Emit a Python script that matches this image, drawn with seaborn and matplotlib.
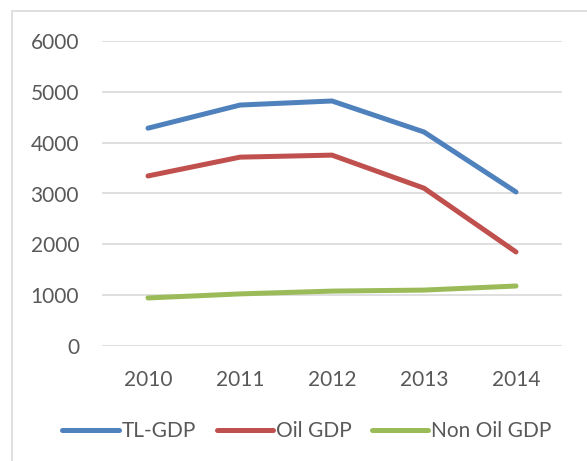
import pandas as pd
import numpy as np
import matplotlib
matplotlib.use("Agg")
import matplotlib.pyplot as plt
from matplotlib.patches import Rectangle
import seaborn as sns

# Values
years = ['2010', '2011', '2012', '2013', '2014']
tl_gdp = [4285, 4740, 4820, 4210, 3030]
oil_gdp = [3345, 3715, 3755, 3105, 1850]
non_oil_gdp = [945, 1025, 1080, 1100, 1180]
series_names = ['TL-GDP', 'Oil GDP', 'Non Oil GDP']
series_colors = ['#4F81BD', '#C0504D', '#9BBB59']

# Long-form table for seaborn
df = pd.DataFrame({
    'year': years * 3,
    'value': tl_gdp + oil_gdp + non_oil_gdp,
    'series': [n for n in series_names for _ in years],
})

sns.set_style("white")
plt.rcParams['font.family'] = ['Lato', 'DejaVu Sans']

fig = plt.figure(figsize=(5.87, 4.61), dpi=100)
ax = fig.add_axes([102 / 587, 1 - 346 / 461, 460 / 587, 305 / 461])

sns.lineplot(data=df, x='year', y='value', hue='series', hue_order=series_names,
             palette=series_colors, linewidth=3.6, sort=False, ax=ax,
             solid_capstyle='round', solid_joinstyle='round')

# Axis styling like an Excel chart
ax.set_xlim(-0.5, 4.5)
ax.set_ylim(0, 6000)
ax.set_yticks(range(0, 7000, 1000))
ax.yaxis.grid(True, color='#D9D9D9', linewidth=1.2)
ax.set_axisbelow(True)
for s in ax.spines.values():
    s.set_visible(False)
ax.set_xlabel('')
ax.set_ylabel('')
ax.tick_params(axis='both', length=0, labelsize=15, labelcolor='#595959')
ax.tick_params(axis='y', pad=16.5)
ax.tick_params(axis='x', pad=17)

# Legend at the bottom
ax.get_legend().remove()
handles, labels = ax.get_legend_handles_labels()
leg = fig.legend(handles, labels, loc='center', bbox_to_anchor=(307 / 587, 1 - 431 / 461),
                 ncol=3, frameon=False, fontsize=15, handlelength=2.7,
                 handletextpad=0.13, columnspacing=1.0)
for t in leg.get_texts():
    t.set_color('#595959')
for line in leg.get_lines():
    line.set_linewidth(3.6)
    line.set_solid_capstyle('round')

# Chart area border (partly cut off at right and bottom)
fig.patches.append(Rectangle((12 / 587, -0.1), 2.0, 1.1 - 11 / 461,
                             transform=fig.transFigure, fill=False,
                             edgecolor='#D9D9D9', linewidth=1.2))

fig.savefig('out.png', dpi=100)
